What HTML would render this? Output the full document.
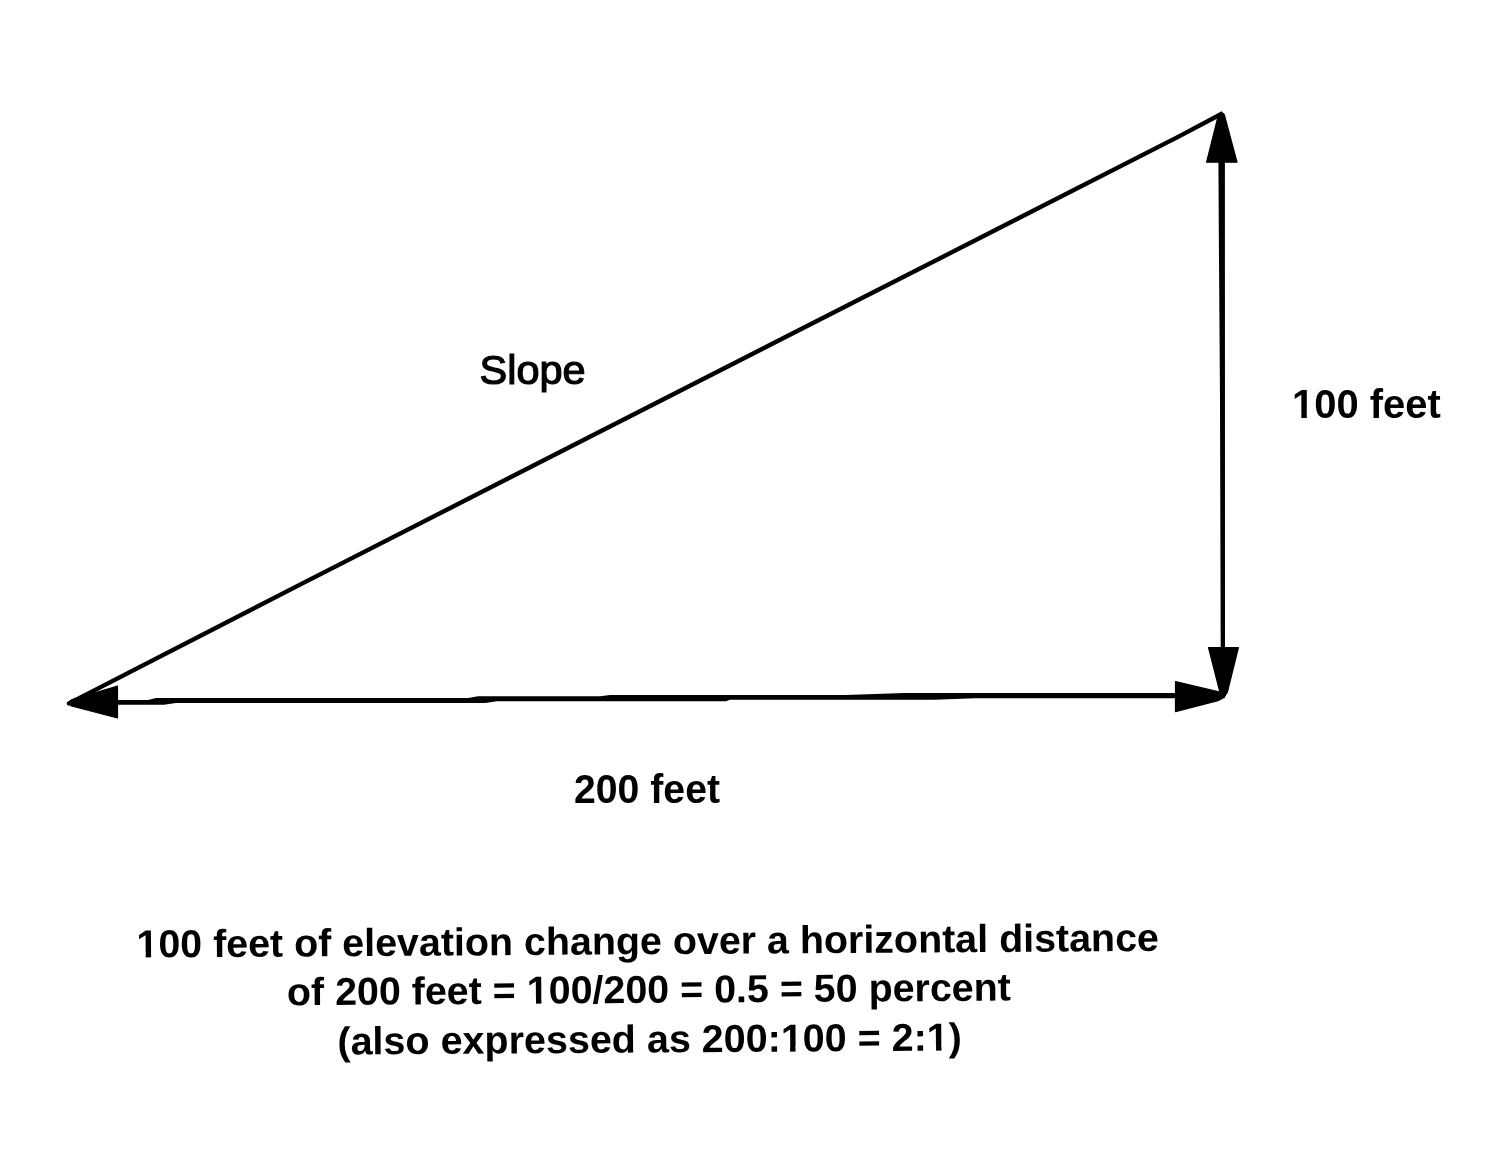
<!DOCTYPE html>
<html>
<head>
<meta charset="utf-8">
<title>Slope diagram</title>
<style>
html,body{margin:0;padding:0;background:#fff;}
body{width:1500px;height:1152px;overflow:hidden;}
svg{display:block;}
text{font-family:"Liberation Sans",Arial,Helvetica,sans-serif;fill:#000;}
.b{font-weight:bold;}
</style>
</head>
<body>
<svg width="1500" height="1152" viewBox="0 0 1500 1152">
<rect x="0" y="0" width="1500" height="1152" fill="#fff"/>
<!-- hypotenuse -->
<polyline points="69,703.4 300,584.6 1180,135.9 1220.3,114.5" fill="none" stroke="#000" stroke-width="4.4" stroke-linecap="round" stroke-linejoin="round"/>
<!-- vertical -->
<polygon points="1218.4,160 1224.9,160 1225,650 1220.7,650 1220,400 1218.8,230" fill="#000"/>
<!-- horizontal -->
<polygon points="116,699.9 148,699.9 156,698 468,698 478,696.3 600,696.3 610,695 845,695 905,693.1 1177,693.1 1177,698.2 975,698.2 934,699.8 730,699.8 726,701.2 497,701.2 485,703 176,703 164,704.8 116,704.8" fill="#000"/>
<!-- arrowheads -->
<g fill="#000" stroke="#000" stroke-width="1.2" stroke-linejoin="round">
<polygon points="1206.6,162.2 1237,162.2 1224.4,114.8 1221.3,112 1218.4,114.8"/>
<polygon points="1208.5,647.5 1238.4,647.5 1227.4,692 1224,697.5 1220.4,694"/>
<polygon points="1175.5,681.5 1175.5,711.6 1218,700.6 1224,697.5 1220,692.2"/>
<polygon points="117.5,686.2 117.5,718 71.5,706 68.6,703 71.5,699.8"/>
</g>
<!-- labels -->
<text x="479.6" y="383.8" font-size="40.5" textLength="106" lengthAdjust="spacingAndGlyphs" stroke="#000" stroke-width="1.2">Slope</text>
<text class="b" x="1292" y="418" font-size="41.5" textLength="148.7" lengthAdjust="spacingAndGlyphs">100 feet</text>
<text class="b" x="574" y="802.7" font-size="40" textLength="146" lengthAdjust="spacingAndGlyphs">200 feet</text>
<!-- caption -->
<g class="b" font-size="39">
<text x="136.5" y="957.5" transform="rotate(-0.37 136.5 957.5)" textLength="1022.5" lengthAdjust="spacingAndGlyphs">100 feet of elevation change over a horizontal distance</text>
<text x="287" y="1005.2" transform="rotate(-0.37 287 1005.2)" textLength="724" lengthAdjust="spacingAndGlyphs">of 200 feet = 100/200 = 0.5 = 50 percent</text>
<text x="337.5" y="1054.5" transform="rotate(-0.37 337.5 1054.5)" textLength="624.5" lengthAdjust="spacingAndGlyphs">(also expressed as 200:100 = 2:1)</text>
</g>
<!-- ones -->
<rect x="1293.17" y="412.69" width="8.15" height="5.92" fill="#fff"/>
<rect x="1306.80" y="412.69" width="7.33" height="5.92" fill="#fff"/>
<rect x="137.65" y="952.51" width="8.05" height="5.56" fill="#fff" transform="rotate(-0.37 136.5 957.5)"/>
<rect x="151.11" y="952.51" width="7.24" height="5.56" fill="#fff" transform="rotate(-0.37 136.5 957.5)"/>
<rect x="527.97" y="1000.21" width="8.05" height="5.56" fill="#fff" transform="rotate(-0.37 287 1005.2)"/>
<rect x="541.43" y="1000.21" width="7.24" height="5.56" fill="#fff" transform="rotate(-0.37 287 1005.2)"/>
<rect x="782.04" y="1049.51" width="8.06" height="5.56" fill="#fff" transform="rotate(-0.37 337.5 1054.5)"/>
<rect x="795.52" y="1049.51" width="7.25" height="5.56" fill="#fff" transform="rotate(-0.37 337.5 1054.5)"/>
<rect x="928.02" y="1049.51" width="8.07" height="5.56" fill="#fff" transform="rotate(-0.37 337.5 1054.5)"/>
<rect x="941.52" y="1049.51" width="7.26" height="5.56" fill="#fff" transform="rotate(-0.37 337.5 1054.5)"/>
<!-- /ones -->
</svg>
</body>
</html>
